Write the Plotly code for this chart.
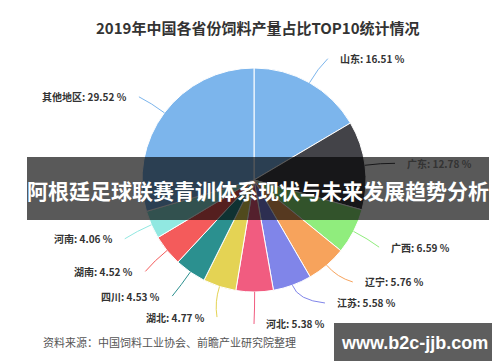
import math
import plotly.graph_objects as go

# ---------------- data ----------------
provinces = ["山东", "广东", "广西", "辽宁", "江苏", "河北", "湖北", "四川", "湖南", "河南", "其他地区"]
shares = [16.51, 12.78, 6.59, 5.76, 5.58, 5.38, 4.77, 4.53, 4.52, 4.06, 29.52]
colors = ["#7cb5ec", "#434348", "#90ed7d", "#f7a35c", "#8085e9", "#f15c80",
          "#e4d354", "#2b908f", "#f45b5b", "#91e8e1", "#7cb5ec"]
title_text = "2019年中国各省份饲料产量占比TOP10统计情况"
banner_text = "阿根廷足球联赛青训体系现状与未来发展趋势分析"
source_text = "资料来源：中国饲料工业协会、前瞻产业研究院整理"
site_text = "www.b2c-jjb.com"

# ---------------- layout geometry (pixels) ----------------
W, H = 500, 362
CX, CY, R = 246, 172, 112
D = R + 30          # label distance
GAP = 21            # min vertical spacing of labels
CJK = "Noto Sans CJK SC"


def px(x):
    return x / W


def py(y):
    return 1 - y / H


fig = go.Figure()
fig.add_trace(go.Pie(
    labels=provinces, values=shares, sort=False, direction="clockwise", rotation=0,
    marker=dict(colors=colors, line=dict(color="white", width=1)),
    textinfo="none", hoverinfo="label+percent",
    domain=dict(x=[px(CX - R), px(CX + R)], y=[py(CY + R), py(CY - R)]),
))

# ---- label positions computed from the data (Highcharts-like) ----
total = sum(shares)
labs = []
acc = 0.0
for i, v in enumerate(shares):
    a = (acc + v / 2) / total * 2 * math.pi
    acc += v
    side = 1 if math.sin(a) >= 0 else -1
    labs.append(dict(i=i, a=a, side=side, y=CY - D * math.cos(a)))

for side in (1, -1):
    grp = sorted([l for l in labs if l["side"] == side], key=lambda l: -l["y"])
    for k in range(1, len(grp)):
        grp[k]["y"] = min(grp[k]["y"], grp[k - 1]["y"] - GAP)

shapes = []
annotations = []
for l in labs:
    i, a, side = l["i"], l["a"], l["side"]
    y = l["y"] + 2
    dy = y - CY
    xx = CX + side * math.sqrt(max(D * D - dy * dy, 0))
    x0, y0 = CX + R * math.sin(a), CY - R * math.cos(a)
    xc, yc = CX + (R + 16) * math.sin(a), CY - (R + 16) * math.cos(a)
    path = (f"M {px(x0)},{py(y0)} Q {px(xc)},{py(yc)} {px(xx)},{py(y)}")
    shapes.append(dict(type="path", path=path, xref="paper", yref="paper",
                       line=dict(color=colors[i], width=1), layer="above"))
    annotations.append(dict(
        x=px(xx + side * 10), y=py(y), xref="paper", yref="paper",
        text=f"<b>{provinces[i]}: {shares[i]:.2f} %</b>", showarrow=False,
        xanchor="left" if side > 0 else "right", yanchor="middle",
        font=dict(family=CJK, size=10, color="#333333"),
    ))

# banner overlay
shapes.append(dict(type="rect", xref="paper", yref="paper",
                   x0=px(19), x1=px(481), y0=py(212), y1=py(149),
                   fillcolor="rgba(0,0,0,0.65)", line=dict(width=0), layer="above"))
# site box
shapes.append(dict(type="rect", xref="paper", yref="paper",
                   x0=px(326), x1=px(485), y0=py(353), y1=py(315),
                   fillcolor="#5e5e5e", line=dict(width=0), layer="above"))
shapes.append(dict(type="rect", xref="paper", yref="paper",
                   x0=px(485), x1=px(490), y0=py(353), y1=py(315),
                   fillcolor="#000000", line=dict(width=0), layer="above"))

annotations += [
    dict(x=px(250), y=py(20), xref="paper", yref="paper", showarrow=False,
         text=f"<b>{title_text}</b>", xanchor="center", yanchor="middle",
         font=dict(family=CJK, size=15, color="#333333")),
    dict(x=px(250), y=py(182), xref="paper", yref="paper", showarrow=False,
         text=f"<b>{banner_text}</b>", xanchor="center", yanchor="middle",
         font=dict(family=CJK, size=21, color="#ffffff")),
    dict(x=px(33), y=py(334), xref="paper", yref="paper", showarrow=False,
         text=source_text, xanchor="left", yanchor="middle",
         font=dict(family=CJK, size=11, color="#555555")),
    dict(x=px(406), y=py(335), xref="paper", yref="paper", showarrow=False,
         text=f"<b>{site_text}</b>", xanchor="center", yanchor="middle",
         font=dict(family="Liberation Sans", size=18, color="#ffffff")),
]

fig.update_layout(
    width=W, height=H, margin=dict(l=0, r=0, t=0, b=0),
    paper_bgcolor="white", plot_bgcolor="white", showlegend=False,
    shapes=shapes, annotations=annotations,
)

fig.write_html("out.html")
